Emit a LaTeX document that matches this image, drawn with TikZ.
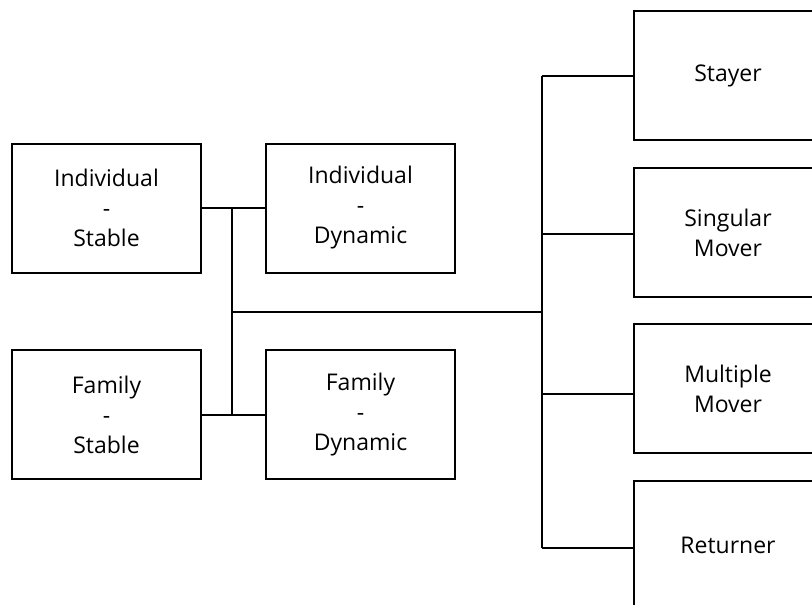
\documentclass[tikz,border=0pt]{standalone}
\usepackage{fontspec}
\setmainfont{Open Sans}
\usetikzlibrary{calc}

\begin{document}
\begin{tikzpicture} [x=1pt, y=-1pt, line width=2pt, box/.style={draw, minimum width=189pt, minimum height=129pt, align=center, font=\fontsize{23}{30}\selectfont, inner sep=0pt}]
\clip (0,0) rectangle (812,605);
\node[box] (is) at (106.5,208) {Individual\\-\\Stable};
\node[box] (id) at (360.5,208) {Individual\\-\\Dynamic};
\node[box] (fs) at (106.5,414.5) {Family\\-\\Stable};
\node[box] (fd) at (360.5,414.5) {Family\\-\\Dynamic};
\node[box] (st) at (728,75.5) {Stayer};
\node[box] (sm) at (728,232.5) {Singular\\Mover};
\node[box] (mm) at (728,388.5) {Multiple\\Mover};
\node[box] (re) at (728,545.5) {Returner};
\coordinate (ljoin) at (232,312);
\coordinate (rjoin) at (542,312);
\draw (is.east) -- (id.west);
\draw (fs.east) -- (fd.west);
\draw (is.east -| ljoin) -- (fs.east -| ljoin);
\draw (ljoin) -- (rjoin);
\draw (st.west -| rjoin) -- ($(re.west -| rjoin)+(0,2.5)$);
\foreach \n/\d in {st/0,sm/1.5,mm/5.5,re/2.5} {
 \draw ($(\n.west -| rjoin)+(0,\d)$) -- ($(\n.west)+(0,\d)$);
}
\end{tikzpicture}
\end{document}
